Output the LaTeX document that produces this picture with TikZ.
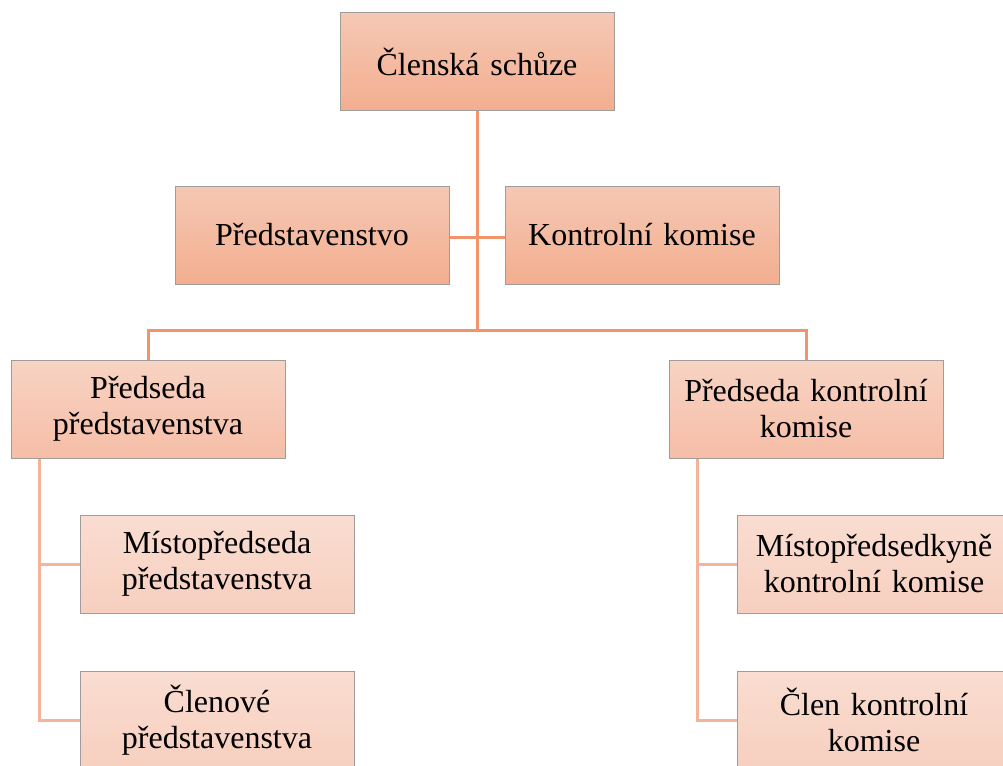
\documentclass[tikz,border=0pt]{standalone}
\usepackage{fontspec}
\setmainfont{Liberation Serif}
\definecolor{aTop}{HTML}{F5C8B4}
\definecolor{aBot}{HTML}{F3AE8F}
\definecolor{bTop}{HTML}{F8D3C3}
\definecolor{bBot}{HTML}{F5BEA7}
\definecolor{cTop}{HTML}{F9DDD1}
\definecolor{cBot}{HTML}{F7CFBF}
\definecolor{edgeGray}{HTML}{A09C9A}
\definecolor{lineA}{HTML}{F0956B}
\definecolor{lineB}{HTML}{F4B49B}
\tikzset{
  orgbox/.style={draw=edgeGray, line width=1pt, rectangle, minimum width=274pt, minimum height=98pt,
    inner sep=2pt, align=center, text width=266pt, font=\fontsize{32}{36}\selectfont},
  lvla/.style={orgbox, top color=aTop, bottom color=aBot},
  lvlb/.style={orgbox, top color=bTop, bottom color=bBot},
  lvlc/.style={orgbox, top color=cTop, bottom color=cBot},
  linka/.style={draw=lineA, line width=3pt},
  linkb/.style={draw=lineB, line width=3pt},
}
\begin{document}
\begin{tikzpicture}[x=1pt,y=-1pt]
\useasboundingbox (0,0) rectangle (1003,765);
\clip (0,0) rectangle (1003,765);
\fill[white] (0,0) rectangle (1003,765);
% connectors first
\coordinate (top) at (477,111);
\coordinate (j) at (477,330);
\coordinate (pb) at (148,360);
\coordinate (kb) at (806,360);
\draw[linka] (top) -- (j);
\draw[linka] (j) -| (pb);
\draw[linka] (j) -| (kb);
\draw[linka] (449,237) -- (505,237);
\draw[linkb] (39,458) |- (80,564);
\draw[linkb] (39,458) |- (80,720);
\draw[linkb] (697,458) |- (737,564);
\draw[linkb] (697,458) |- (737,720);
% nodes
\node[lvla] (cs) at (477,62) {Členská schůze};
\node[lvla] (pr) at (312,235) {Představenstvo};
\node[lvla] (ko) at (642,235) {Kontrolní komise};
\node[lvlb] (pp) at (148,409) {Předseda\\představenstva};
\node[lvlb] (pk) at (806,409) {Předseda kontrolní\\komise};
\node[lvlc] (mp) at (217,564) {Místopředseda\\představenstva};
\node[lvlc] (cp) at (217,720) {Členové\\představenstva};
\node[lvlc] (mk) at (874,564) {Místopředsedkyně\\kontrolní komise};
\node[lvlc] (ck) at (874,720) {Člen kontrolní\\komise};
\end{tikzpicture}
\end{document}
